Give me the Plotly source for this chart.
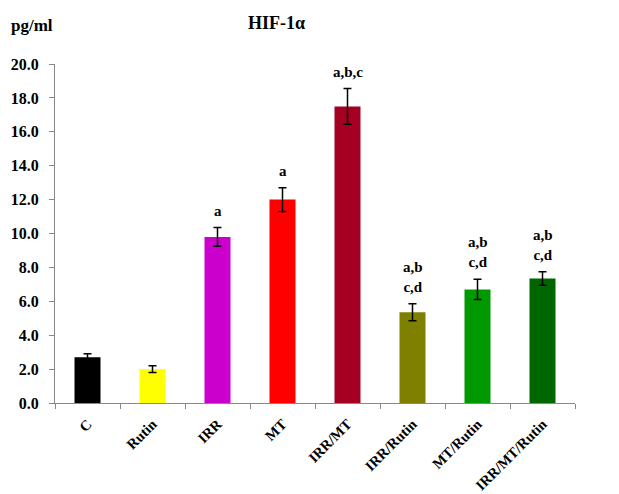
import plotly.graph_objects as go

# HIF-1α levels (pg/ml) per treatment group
groups = ["C", "Rutin", "IRR", "MT", "IRR/MT", "IRR/Rutin", "MT/Rutin", "IRR/MT/Rutin"]
means = [2.7, 2.0, 9.8, 12.0, 17.5, 5.35, 6.7, 7.35]
sems = [0.2, 0.2, 0.55, 0.7, 1.05, 0.5, 0.6, 0.4]
sig_labels = ["", "", "a", "a", "a,b,c", "a,b<br>c,d", "a,b<br>c,d", "a,b<br>c,d"]
bar_colors = ["#000000", "#FFFF00", "#CC00CC", "#FF0000", "#A50021",
              "#808000", "#009900", "#006600"]
y_ticks = [0, 2, 4, 6, 8, 10, 12, 14, 16, 18, 20]

SERIF = "Liberation Serif, Times New Roman, serif"

fig = go.Figure(go.Bar(
    x=groups,
    y=means,
    marker=dict(color=bar_colors, line=dict(width=0)),
    width=0.4,
    error_y=dict(type="data", array=sems, visible=True,
                 color="#000000", thickness=1.5, width=4),
))

for g, m, s, lab in zip(groups, means, sems, sig_labels):
    if lab:
        fig.add_annotation(x=g, y=m + s, text=lab, showarrow=False,
                           yanchor="bottom", yshift=7,
                           font=dict(family=SERIF, size=15, color="#000000", weight="bold"))

fig.add_annotation(xref="paper", yref="paper", x=0.425, y=1.0, yshift=41,
                   text="HIF-1α", showarrow=False, xanchor="center", yanchor="middle",
                   font=dict(family=SERIF, size=18, color="#000000", weight="bold"))
fig.add_annotation(xref="paper", yref="paper", x=0, xshift=-46, y=1.0, yshift=39,
                   text="pg/ml", showarrow=False, xanchor="left", yanchor="middle",
                   font=dict(family=SERIF, size=17, color="#000000", weight="bold"))

fig.update_layout(
    width=619, height=494,
    margin=dict(l=55, r=44, t=64, b=91),
    plot_bgcolor="white", paper_bgcolor="white",
    showlegend=False,
    bargap=0.6,
)
fig.update_xaxes(
    type="category", tickson="boundaries", ticks="outside", ticklen=5,
    tickcolor="#888888", showline=True, linecolor="#888888", linewidth=1,
    tickangle=-45, showgrid=False, ticklabelstandoff=6, automargin=False,
    tickfont=dict(family=SERIF, size=14.5, color="#000000", weight="bold"),
)
fig.update_yaxes(
    range=[0, 20], tickvals=y_ticks, tickformat=".1f",
    ticks="outside", ticklen=5, tickcolor="#888888",
    showline=True, linecolor="#888888", linewidth=1,
    showgrid=False, zeroline=False, ticklabelstandoff=7, automargin=False,
    tickfont=dict(family=SERIF, size=16, color="#000000", weight="bold"),
)

fig.write_html("out.html")
